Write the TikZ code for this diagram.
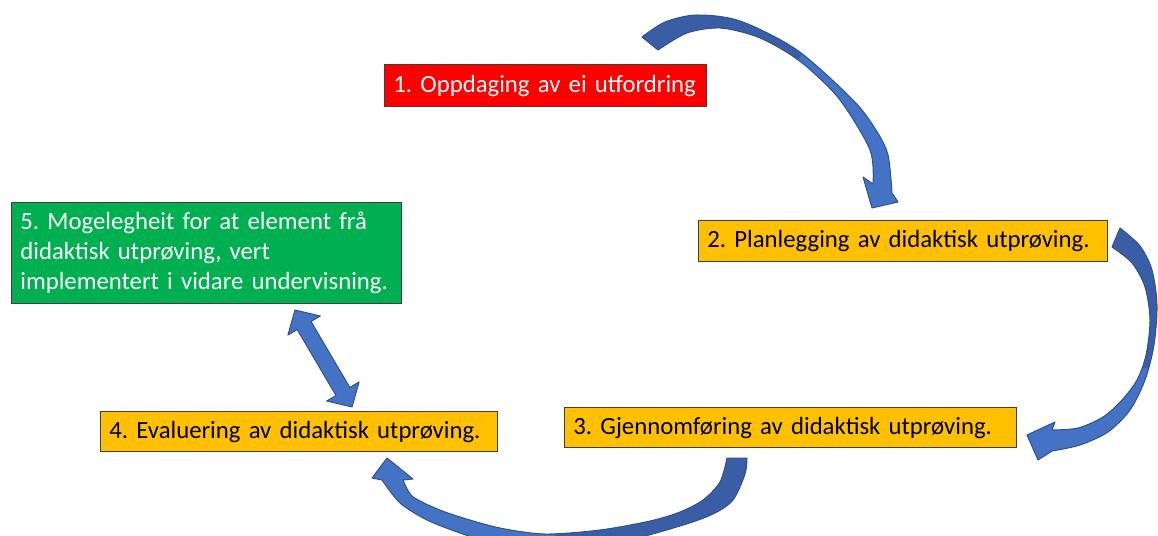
\documentclass[tikz,border=0pt]{standalone}
\usepackage{fontspec}
\setmainfont{Carlito}
\usepackage{tikz}
\usetikzlibrary{calc}
\frenchspacing
\hyphenpenalty=10000
\definecolor{StepRed}{HTML}{FF0000}
\definecolor{StepAmber}{HTML}{FFC000}
\definecolor{StepGreen}{HTML}{00B050}
\definecolor{StepEdge}{HTML}{3F3F3F}
\definecolor{ArcBlue}{HTML}{4472C4}
\definecolor{ArcDeep}{HTML}{3A5EA6}
\definecolor{ArcEdge}{HTML}{2F528F}
\tikzset{
  stepbox/.style={draw=StepEdge,line width=0.3mm,anchor=north west,align=left,
                  inner xsep=2.2mm,inner ysep=0mm,
                  font=\fontsize{17.6}{21.3}\selectfont},
  stepred/.style={stepbox,fill=StepRed,text=white},
  stepamber/.style={stepbox,fill=StepAmber,text=black},
  stepgreen/.style={stepbox,fill=StepGreen,text=white},
  arcfill/.style={fill=ArcBlue},
  arcdeep/.style={fill=ArcDeep},
  arcedge/.style={draw=ArcEdge,line width=0.25mm,line join=round},
}
\newcommand\arcOnePath{plot[smooth] coordinates {(642,37) (665,22) (697,15) (740,21) (797,50) (853,100) (876,130) (888,155) (892,193)}
  -- (898,202) -- (872,208) -- (863,177)
  -- plot[smooth] coordinates {(873,184) (870,150) (840,100) (807,67) (783,50) (755,36) (720,28) (687,33) (658,50)} -- cycle}
\newcommand\arcTwoPath{plot[smooth] coordinates {(1120,228) (1140,246) (1152,270) (1157,305) (1154,345) (1145,380) (1130,410) (1108,432) (1080,445) (1052,451)}
  -- (1038,460) -- (1027,435) -- (1055,422)
  -- plot[smooth] coordinates {(1052,430) (1078,428) (1103,417) (1122,400) (1137,380) (1146,355) (1150,320) (1145,287) (1132,263) (1112,247)} -- cycle}
\newcommand\arcThreePath{plot[smooth] coordinates {(747,458) (745,474) (733,500) (713,514) (680,526) (620,542) (550,550) (490,542) (460,533) (427,520) (400,503) (382,480)}
  -- (372,478) -- (387,458) -- (413,479)
  -- plot[smooth] coordinates {(403,480) (412,496) (435,508) (460,517) (500,528) (545,534) (600,530) (650,521) (680,512) (703,500) (720,482) (727,458)} -- cycle}

\begin{document}
\begin{tikzpicture}[x=0.25mm,y=-0.25mm]
  \clip (0,0) rectangle (1158,536);

  \node[stepred,text width=76.1mm,minimum height=10.5mm] (oppdaging) at (384,64)
    {1. Oppdaging av ei utfordring};
  \node[stepamber,text width=97.85mm,minimum height=10.25mm] (planlegging) at (698,220)
    {2. Planlegging av didaktisk utprøving.};
  \node[stepamber,text width=108.6mm,minimum height=10mm] (gjennomforing) at (564,407)
    {3. Gjennomføring av didaktisk utprøving.};
  \node[stepamber,text width=94.85mm,minimum height=10mm] (evaluering) at (100,411)
    {4. Evaluering av didaktisk utprøving.};
  \node[stepgreen,text width=93.1mm,minimum height=25.25mm] (mogelegheit) at (11,202)
    {5. Mogelegheit for at element frå\\didaktisk utprøving, vert\\implementert i vidare undervisning.};

  % curved arrows, darker back part
  \fill[arcfill] \arcOnePath;
  \begin{scope}
    \clip \arcOnePath;
    \fill[arcdeep] (600,0) -- (850,0) -- (762,100) -- (600,100) -- cycle;
  \end{scope}
  \draw[arcedge] \arcOnePath;

  \fill[arcfill] \arcTwoPath;
  \begin{scope}
    \clip \arcTwoPath;
    \fill[arcdeep] (1060,200) rectangle (1170,368);
  \end{scope}
  \draw[arcedge] \arcTwoPath;

  \fill[arcfill] \arcThreePath;
  \begin{scope}
    \clip \arcThreePath;
    \fill[arcdeep] (555,440) rectangle (760,560);
  \end{scope}
  \draw[arcedge] \arcThreePath;

  % double arrow 4 <-> 5
  \coordinate (dblUp) at (295,310);
  \coordinate (dblDown) at (352,407);
  \coordinate (headUp) at ($(dblUp)!4.5mm!(dblDown)$);
  \coordinate (headDown) at ($(dblDown)!4.5mm!(dblUp)$);
  \filldraw[arcfill,arcedge] (dblUp)
    -- ($(headUp)!4.7mm!90:(dblDown)$) -- ($(headUp)!2mm!90:(dblDown)$)
    -- ($(headDown)!2mm!-90:(dblUp)$) -- ($(headDown)!4.7mm!-90:(dblUp)$)
    -- (dblDown)
    -- ($(headDown)!4.7mm!90:(dblUp)$) -- ($(headDown)!2mm!90:(dblUp)$)
    -- ($(headUp)!2mm!-90:(dblDown)$) -- ($(headUp)!4.7mm!-90:(dblDown)$)
    -- cycle;
\end{tikzpicture}
\end{document}
